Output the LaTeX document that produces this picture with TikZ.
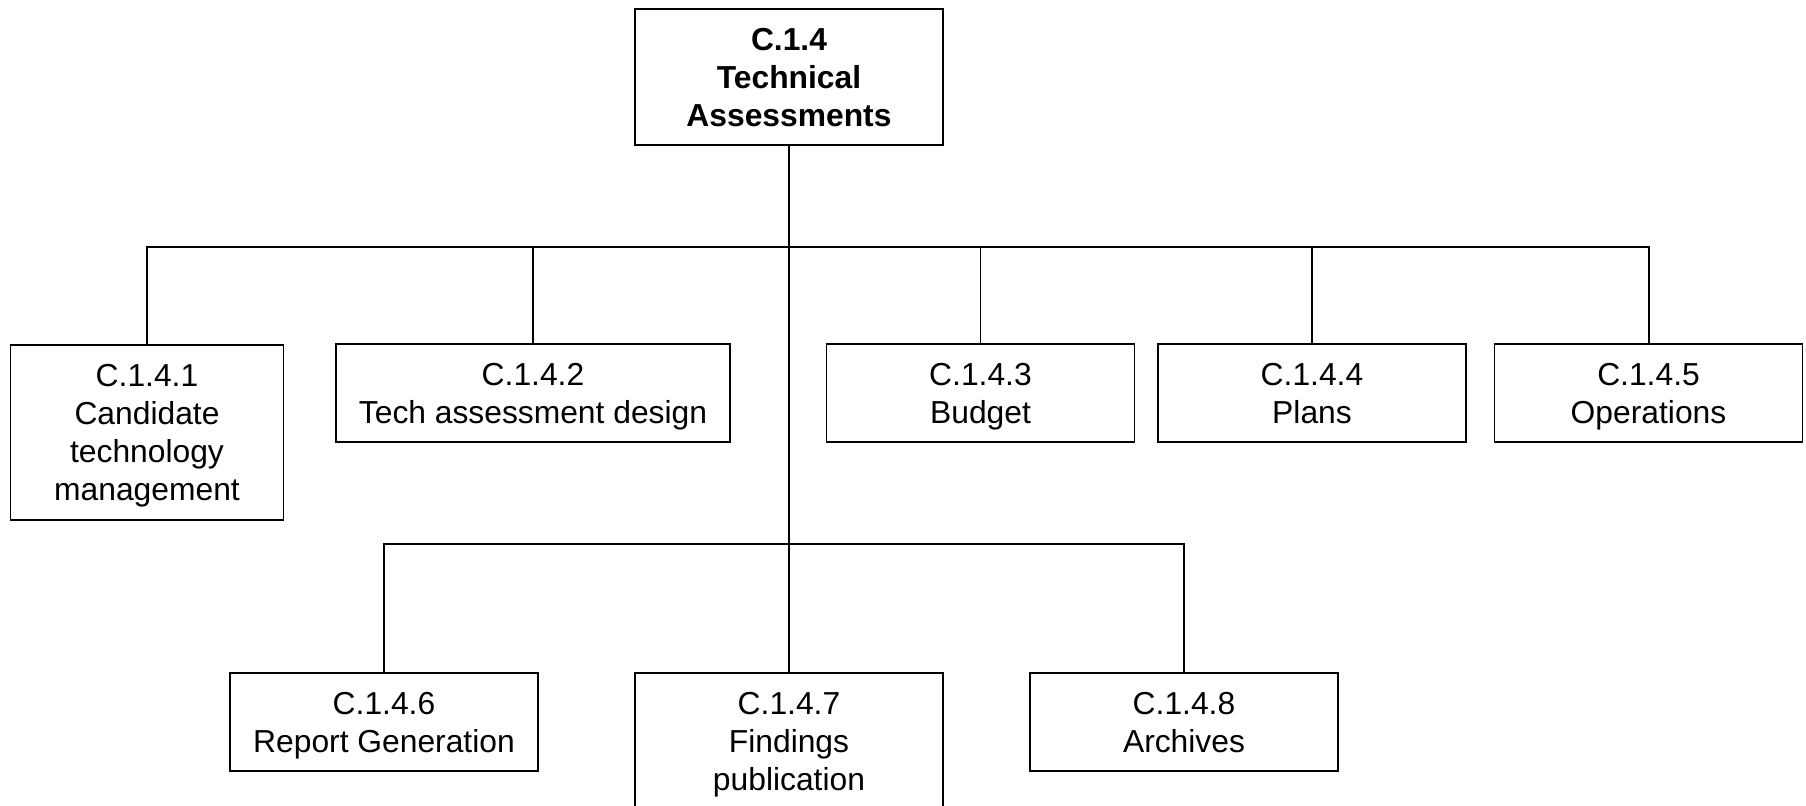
\documentclass[tikz,border=0pt]{standalone}
\usepackage{fontspec}
\setmainfont{Liberation Sans}
\usepackage{tikz}
\usetikzlibrary{positioning}
\newcommand{\wbsfont}{\fontsize{15.9pt}{19pt}\selectfont}
\begin{document}
\begin{tikzpicture}[x=0.5pt,y=-0.5pt,
    wbsbox/.style={draw=black,line width=0.75pt,fill=white,align=center,
      inner sep=0pt,minimum width=154pt,minimum height=49pt,font=\wbsfont,
      text depth=-1.3pt},
    trunk/.style={line width=1pt},
    branch/.style={line width=0.6pt}]
    \clip (0,0) rectangle (1806,806);
    % top of the tree
    \node[wbsbox,minimum height=68pt,font=\wbsfont\bfseries] (top) at (789,77)
      {C.1.4\\Technical\\Assessments};
    % first row
    \node[wbsbox,minimum width=136.5pt,minimum height=87.5pt] (c1) at (147,432.5)
      {C.1.4.1\\Candidate\\technology\\management};
    \node[wbsbox,minimum width=197pt] (c2) at (533,393) {C.1.4.2\\Tech assessment design};
    \node[wbsbox] (c3) at (980.5,393) {C.1.4.3\\Budget};
    \node[wbsbox] (c4) at (1312,393) {C.1.4.4\\Plans};
    \node[wbsbox] (c5) at (1648.5,393) {C.1.4.5\\Operations};
    % second row
    \node[wbsbox] (c6) at (384,722) {C.1.4.6\\Report Generation};
    \node[wbsbox,minimum height=68pt] (c7) at (789,741) {C.1.4.7\\Findings\\publication};
    \node[wbsbox] (c8) at (1184,722) {C.1.4.8\\Archives};
    % the two buses
    \coordinate (bus1) at (789,247);
    \coordinate (bus2) at (789,544);
    \draw[trunk] (top.south) -- (bus2);
    \draw[trunk] (c1.north) |- (bus1);
    \draw[trunk] (c5.north) |- (bus1);
    \draw[branch] (c2.north) |- (bus1);
    \draw[branch] (c3.north) |- (bus1);
    \draw[branch] (c4.north) |- (bus1);
    \draw[branch] (c6.north) |- (bus2);
    \draw[trunk] (c8.north) |- (bus2);
    \draw[branch] (c7.north) -- (bus2);
\end{tikzpicture}
\end{document}
